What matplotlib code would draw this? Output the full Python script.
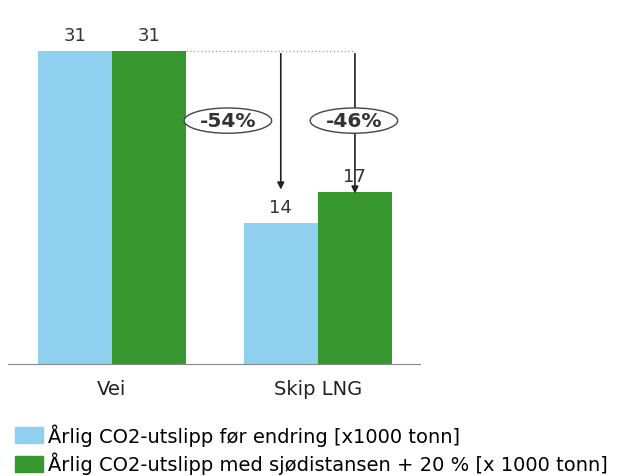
import matplotlib.pyplot as plt
from matplotlib.patches import Ellipse, Patch

# data
categories = ['Vei', 'Skip LNG']
before = [31, 14]
after = [31, 17]
pct_labels = ['-54%', '-46%']
legend_labels = ['Årlig CO2-utslipp før endring [x1000 tonn]',
                 'Årlig CO2-utslipp med sjødistansen + 20 % [x 1000 tonn]']

c_blue = '#8fd0f0'
c_green = '#36982f'
w = 0.36

fig = plt.figure(figsize=(6.23, 4.77), dpi=100)
ax = fig.add_axes([0.0128, 0.2348, 0.661, 0.741])

x = list(range(len(categories)))
xb = [i - w / 2 for i in x]
xg = [i + w / 2 for i in x]
ax.bar(xb, before, width=w, color=c_blue)
ax.bar(xg, after, width=w, color=c_green)

for xi, v in zip(xb, before):
    ax.annotate(str(v), (xi, v), xytext=(0, 5), textcoords='offset points',
                ha='center', va='bottom', fontsize=13, color='#333333')
for xi, v in zip(xg, after):
    ax.annotate(str(v), (xi, v), xytext=(0, 5), textcoords='offset points',
                ha='center', va='bottom', fontsize=13, color='#333333')

# dotted reference line from top of Vei
ax.plot([xg[0] + w / 2, xg[1]], [after[0], after[0]], ls=':', color='#aaaaaa', lw=1)

# arrows down to Skip LNG bars
ax.annotate('', xy=(xb[1], 17.0), xytext=(xb[1], after[0]),
            arrowprops=dict(arrowstyle='-|>', color='#222222', lw=1.2, mutation_scale=10))
ax.annotate('', xy=(xg[1], 16.6), xytext=(xg[1], after[0]),
            arrowprops=dict(arrowstyle='-|>', color='#222222', lw=1.2, mutation_scale=10))

# percentage bubbles
for cx, txt in zip([0.563, 1.175], pct_labels):
    ax.add_patch(Ellipse((cx, 24.1), 0.425, 2.5, facecolor='white',
                         edgecolor='#444444', lw=1.0, zorder=3))
    ax.text(cx, 24.1, txt, ha='center', va='center', fontsize=14.5,
            fontweight='bold', color='#333333', zorder=4)

ax.set_xlim(-0.505, 1.495)
ax.set_ylim(0, 35)
ax.set_xticks(x)
ax.set_xticklabels(categories, fontsize=14, color='#222222')
ax.tick_params(axis='x', length=0, pad=11)
ax.set_yticks([])
for s in ['top', 'right', 'left']:
    ax.spines[s].set_visible(False)
ax.spines['bottom'].set_color('#888888')

handles = [Patch(color=c_blue), Patch(color=c_green)]
fig.legend(handles, legend_labels, loc='upper left', bbox_to_anchor=(0.024, 0.11),
           frameon=False, fontsize=14, handlelength=1.44, handleheight=0.88,
           handletextpad=0.26, labelspacing=0.3, borderpad=0, borderaxespad=0)

fig.savefig('out.png', dpi=100)
